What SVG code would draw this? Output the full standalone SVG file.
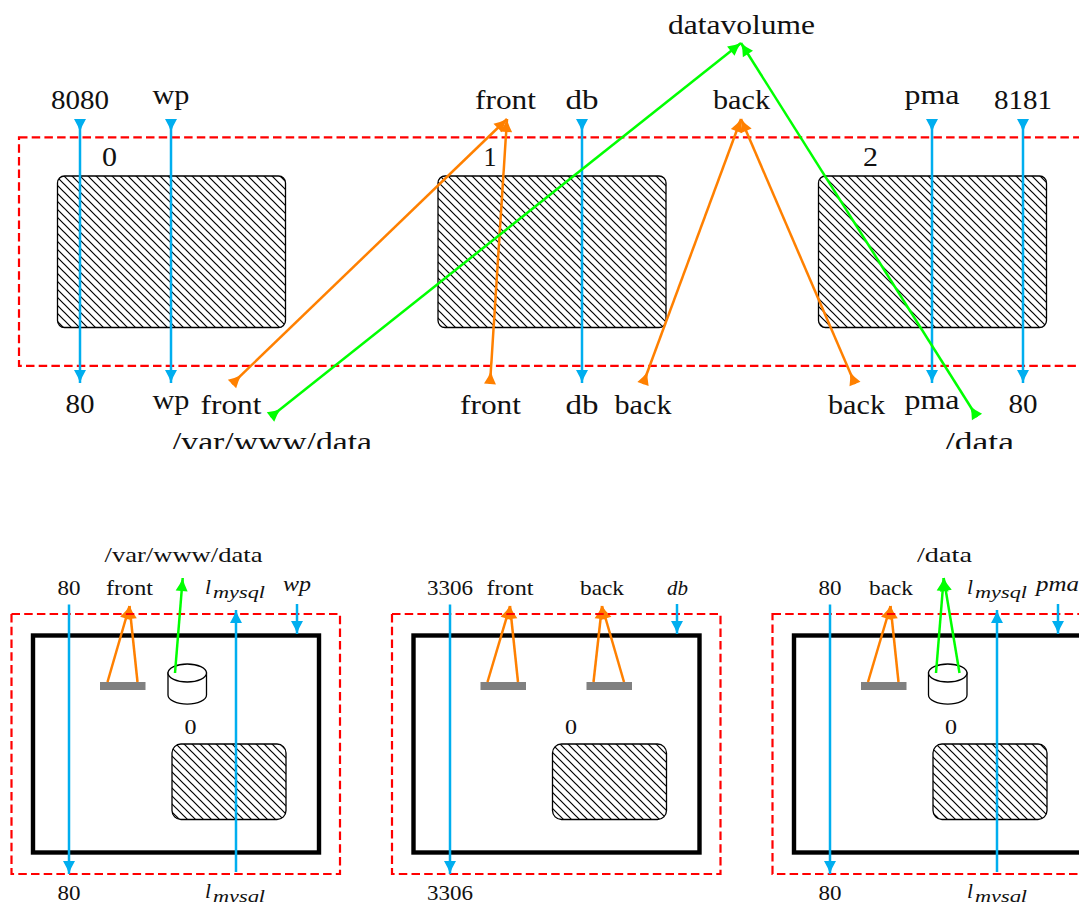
<svg xmlns="http://www.w3.org/2000/svg" width="1079" height="902" viewBox="0 0 1079 902">
<style>
text{font-family:"Liberation Serif","Times New Roman",serif;fill:#111;text-anchor:middle}
.big{font-size:28px}
.sm{font-size:21.5px}
.it{font-style:italic}
.sub{font-size:17px;font-style:italic;text-anchor:start}
.host{fill:none;stroke:#f00;stroke-width:2.2;stroke-dasharray:8.5 4.2}
.vm{fill:url(#hatch);stroke:#000;stroke-width:1.3}
.box{fill:#fff;stroke:#000;stroke-width:4.4}
.bar{fill:#808080}
.cyl{fill:#fff;stroke:#000;stroke-width:1.3}
.b,.o,.g,.b1,.o1,.g1{fill:none;stroke-width:2.5}
.b{stroke:#00aeef;marker-start:url(#bs);marker-end:url(#be)}
.b1{stroke:#00aeef;marker-end:url(#be)}
.o{stroke:#ff8000;marker-start:url(#os);marker-end:url(#oe)}
.o1{stroke:#ff8000;marker-end:url(#oe)}
.g{stroke:#0f0;marker-start:url(#gs);marker-end:url(#ge)}
.g1{stroke:#0f0;marker-end:url(#ge)}
</style>
<defs>
<pattern id="hatch" patternUnits="userSpaceOnUse" width="8" height="8"><path d="M-1,-1L9,9M-1,7L1,9M7,-1L9,1" stroke="#000" stroke-width="1.2" fill="none"/></pattern>
<path id="head" d="M13,6Q7,4.200 0,0L0,12Q7,7.800 13,6Z"/>
<marker id="be" markerUnits="userSpaceOnUse" markerWidth="14" markerHeight="12" refX="13" refY="6" orient="auto" overflow="visible"><use href="#head" fill="#00aeef"/></marker>
<marker id="bs" markerUnits="userSpaceOnUse" markerWidth="14" markerHeight="12" refX="0" refY="6" orient="auto" overflow="visible"><use href="#head" fill="#00aeef"/></marker>
<marker id="oe" markerUnits="userSpaceOnUse" markerWidth="14" markerHeight="12" refX="13" refY="6" orient="auto" overflow="visible"><use href="#head" fill="#ff8000"/></marker>
<marker id="os" markerUnits="userSpaceOnUse" markerWidth="14" markerHeight="12" refX="0" refY="6" orient="auto" overflow="visible"><use href="#head" fill="#ff8000"/></marker>
<marker id="ge" markerUnits="userSpaceOnUse" markerWidth="14" markerHeight="12" refX="13" refY="6" orient="auto" overflow="visible"><use href="#head" fill="#0f0"/></marker>
<marker id="gs" markerUnits="userSpaceOnUse" markerWidth="14" markerHeight="12" refX="0" refY="6" orient="auto" overflow="visible"><use href="#head" fill="#0f0"/></marker>
<clipPath id="topclip"><rect x="0" y="0" width="1079" height="449"/></clipPath>
</defs>

<g id="host-top"><rect class="host" x="19" y="137.300" width="1100" height="228.500"/></g>
<g id="vm0"><rect class="vm" x="57.500" y="176" width="228" height="151.500" rx="7"/><text class="big" x="109.500" y="166" textLength="15" lengthAdjust="spacingAndGlyphs">0</text></g>
<g id="vm1"><rect class="vm" x="438" y="176" width="228" height="151.500" rx="7"/><text class="big" x="490" y="166" textLength="13" lengthAdjust="spacingAndGlyphs">1</text></g>
<g id="vm2"><rect class="vm" x="818.500" y="176" width="228" height="151.500" rx="7"/><text class="big" x="870.500" y="166" textLength="15" lengthAdjust="spacingAndGlyphs">2</text></g>

<g id="top-labels" clip-path="url(#topclip)">
<text class="big" x="80" y="109" textLength="58" lengthAdjust="spacingAndGlyphs">8080</text>
<text class="big" x="171" y="104" textLength="37" lengthAdjust="spacingAndGlyphs">wp</text>
<text class="big" x="505.500" y="109" textLength="61" lengthAdjust="spacingAndGlyphs">front</text>
<text class="big" x="582" y="109" textLength="33" lengthAdjust="spacingAndGlyphs">db</text>
<text class="big" x="741.500" y="109" textLength="57" lengthAdjust="spacingAndGlyphs">back</text>
<text class="big" x="932" y="104" textLength="55" lengthAdjust="spacingAndGlyphs">pma</text>
<text class="big" x="1023" y="109" textLength="58" lengthAdjust="spacingAndGlyphs">8181</text>
<text class="big" x="741.500" y="34" textLength="147" lengthAdjust="spacingAndGlyphs">datavolume</text>
<text class="big" x="80" y="413" textLength="29" lengthAdjust="spacingAndGlyphs">80</text>
<text class="big" x="171" y="409" textLength="37" lengthAdjust="spacingAndGlyphs">wp</text>
<text class="big" x="231" y="414" textLength="61" lengthAdjust="spacingAndGlyphs">front</text>
<text class="big" x="490.500" y="414" textLength="61" lengthAdjust="spacingAndGlyphs">front</text>
<text class="big" x="582" y="414" textLength="33" lengthAdjust="spacingAndGlyphs">db</text>
<text class="big" x="643" y="414" textLength="57" lengthAdjust="spacingAndGlyphs">back</text>
<text class="big" x="856.500" y="414" textLength="57" lengthAdjust="spacingAndGlyphs">back</text>
<text class="big" x="932" y="409" textLength="55" lengthAdjust="spacingAndGlyphs">pma</text>
<text class="big" x="1023" y="413" textLength="29" lengthAdjust="spacingAndGlyphs">80</text>
<text class="big" x="272" y="451" textLength="200" lengthAdjust="spacingAndGlyphs">/var/www/data</text>
<text class="big" x="979.500" y="451" textLength="69" lengthAdjust="spacingAndGlyphs">/data</text>
</g>

<g id="connectors-top">
<path class="o" d="M232,384L507,119"/>
<path class="o" d="M490,384L507,119"/>
<path class="o" d="M643,384L741,119"/>
<path class="o" d="M855,384L741,119"/>
<path class="b" d="M80,119V383"/>
<path class="b" d="M171,119V383"/>
<path class="b" d="M582,119V383"/>
<path class="b" d="M932,119V383"/>
<path class="b" d="M1023,119V383"/>
<path class="g" d="M270.500,417L741,43"/>
<path class="g" d="M977,417L741,43"/>
</g>

<g id="panel0">
<rect class="box" x="33" y="635.500" width="286" height="217"/>
<rect class="bar" x="100" y="682" width="45.500" height="8"/>
<g id="cyl0"><path class="cyl" d="M168,673V695A19,9 0 0 0 206.500,695V673Z"/><ellipse class="cyl" cx="187.250" cy="673" rx="19.250" ry="9"/></g>
<rect class="vm" x="172" y="744" width="114" height="75.500" rx="9"/>
<text class="sm" x="190.500" y="734" textLength="12" lengthAdjust="spacingAndGlyphs">0</text>
<text class="sm" x="183.500" y="562" textLength="158" lengthAdjust="spacingAndGlyphs">/var/www/data</text>
<text class="sm" x="69" y="595" textLength="23" lengthAdjust="spacingAndGlyphs">80</text>
<text class="sm" x="129.500" y="595" textLength="47" lengthAdjust="spacingAndGlyphs">front</text>
<text class="sm it" x="208" y="594">l</text><text class="sub" x="213" y="598" textLength="52" lengthAdjust="spacingAndGlyphs">mysql</text>
<text class="sm it" x="297" y="591" textLength="28" lengthAdjust="spacingAndGlyphs">wp</text>
<text class="sm" x="69" y="900" textLength="23" lengthAdjust="spacingAndGlyphs">80</text>
<text class="sm it" x="208" y="898">l</text><text class="sub" x="213" y="902" textLength="52" lengthAdjust="spacingAndGlyphs">mysql</text>
</g>
<g id="panel1">
<rect class="box" x="413.500" y="635.500" width="286" height="217"/>
<rect class="bar" x="480.500" y="682" width="45.500" height="8"/>
<rect class="bar" x="586.500" y="682" width="45.500" height="8"/>
<rect class="vm" x="552.500" y="744" width="114" height="75.500" rx="9"/>
<text class="sm" x="571" y="734" textLength="12" lengthAdjust="spacingAndGlyphs">0</text>
<text class="sm" x="450" y="595" textLength="46" lengthAdjust="spacingAndGlyphs">3306</text>
<text class="sm" x="510" y="595" textLength="47" lengthAdjust="spacingAndGlyphs">front</text>
<text class="sm" x="602" y="595" textLength="44" lengthAdjust="spacingAndGlyphs">back</text>
<text class="sm it" x="677.500" y="595" textLength="21" lengthAdjust="spacingAndGlyphs">db</text>
<text class="sm" x="450" y="900" textLength="46" lengthAdjust="spacingAndGlyphs">3306</text>
</g>
<g id="panel2">
<rect class="box" x="794" y="635.500" width="300" height="217"/>
<rect class="bar" x="861" y="682" width="45.500" height="8"/>
<g id="cyl2"><path class="cyl" d="M928.500,673V695A19,9 0 0 0 967,695V673Z"/><ellipse class="cyl" cx="947.750" cy="673" rx="19.250" ry="9"/></g>
<rect class="vm" x="933" y="744" width="114" height="75.500" rx="9"/>
<text class="sm" x="951" y="734" textLength="12" lengthAdjust="spacingAndGlyphs">0</text>
<text class="sm" x="944.500" y="562" textLength="55" lengthAdjust="spacingAndGlyphs">/data</text>
<text class="sm" x="830" y="595" textLength="23" lengthAdjust="spacingAndGlyphs">80</text>
<text class="sm" x="891" y="595" textLength="44" lengthAdjust="spacingAndGlyphs">back</text>
<text class="sm it" x="970" y="594">l</text><text class="sub" x="975" y="598" textLength="52" lengthAdjust="spacingAndGlyphs">mysql</text>
<text class="sm it" x="1057.500" y="591" textLength="43" lengthAdjust="spacingAndGlyphs">pma</text>
<text class="sm" x="830" y="900" textLength="23" lengthAdjust="spacingAndGlyphs">80</text>
<text class="sm it" x="970" y="898">l</text><text class="sub" x="975" y="902" textLength="52" lengthAdjust="spacingAndGlyphs">mysql</text>
</g>

<g id="connectors-bottom">
<path class="o1" d="M107.500,682L129.500,606"/>
<path class="o1" d="M137.500,682L129.500,606"/>
<path class="o1" d="M487.500,682L510,606"/>
<path class="o1" d="M518,682L510,606"/>
<path class="o1" d="M593.500,682L602,606"/>
<path class="o1" d="M624,682L602,606"/>
<path class="o1" d="M868,682L890.500,606"/>
<path class="o1" d="M898.500,682L890.500,606"/>
</g>
<g id="hosts-bottom">
<rect class="host" x="11.500" y="614" width="328.500" height="260"/>
<rect class="host" x="392" y="614" width="328.500" height="260"/>
<rect class="host" x="772.500" y="614" width="340" height="260"/>
</g>
<g id="connectors-bottom-over">
<path class="b1" d="M69,604.500V874"/>
<path class="b1" d="M236,872V610"/>
<path class="b1" d="M297,604V634"/>
<path class="g1" d="M175,673L182.700,578"/>
<path class="b1" d="M450,604.500V874"/>
<path class="b1" d="M677,604V634"/>
<path class="b1" d="M830,604.500V874"/>
<path class="b1" d="M997,872V610"/>
<path class="b1" d="M1058,604V634"/>
<path class="g1" d="M936,673L943.700,578"/>
<path class="g1" d="M959.500,673L943.700,578"/>
</g>
</svg>
